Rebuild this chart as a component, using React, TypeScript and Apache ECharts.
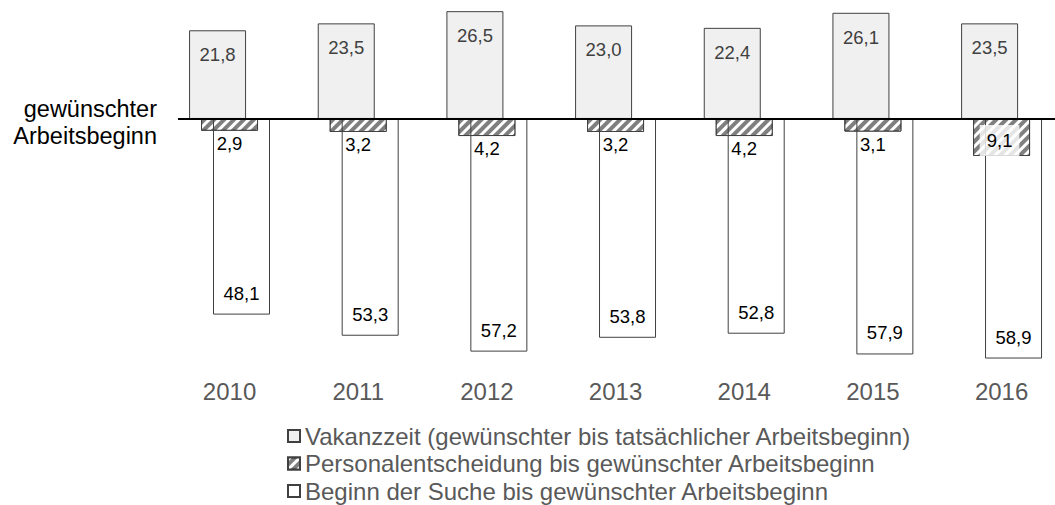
import React, { useEffect, useRef } from "react";
import * as echarts from "echarts";

const years = ["2010", "2011", "2012", "2013", "2014", "2015", "2016"];
const vakanz = [21.8, 23.5, 26.5, 23.0, 22.4, 26.1, 23.5];
const personal = [2.9, 3.2, 4.2, 3.2, 4.2, 3.1, 9.1];
const suche = [48.1, 53.3, 57.2, 53.8, 52.8, 57.9, 58.9];
const seriesNames = [
  "Vakanzzeit (gewünschter bis tatsächlicher Arbeitsbeginn)",
  "Personalentscheidung bis gewünschter Arbeitsbeginn",
  "Beginn der Suche bis gewünschter Arbeitsbeginn",
];
const leftLabel = "gewünschter\nArbeitsbeginn";
const personalInsideIndex = 6;

const FONT = "'Liberation Sans', Arial, sans-serif";
const fmt = (v: number) => Math.abs(v).toFixed(1).replace(".", ",");

export default function App() {
  const ref = useRef<HTMLDivElement>(null);
  useEffect(() => {
    if (!ref.current) return;
    const chart = echarts.init(ref.current, null, { renderer: "svg" });
    const option: any = {
      animation: false,
      textStyle: { fontFamily: FONT },
      grid: { left: 165.2, right: 34.1, top: 1, bottom: 142 },
      xAxis: {
        type: "category",
        data: years,
        axisLine: { show: false },
        axisTick: { show: false },
        axisLabel: { fontSize: 24, color: "#595959", margin: 16, fontFamily: FONT },
      },
      yAxis: {
        type: "value",
        min: -60,
        max: 29,
        show: false,
        splitLine: { show: false },
      },
      legend: {
        orient: "vertical",
        left: 287,
        top: 424,
        padding: 0,
        itemWidth: 12,
        itemHeight: 12,
        itemGap: 3.5,
        icon: "rect",
        data: seriesNames,
        textStyle: { fontSize: 24, lineHeight: 24, color: "#595959", fontFamily: FONT },
      },
      series: [
        {
          name: seriesNames[0],
          type: "bar",
          barWidth: 57,
          barGap: "-79%",
          data: vakanz,
          itemStyle: { color: "#f0f0f0", borderColor: "#404040", borderWidth: 1 },
          label: {
            show: true,
            position: "insideTop",
            distance: 15,
            fontSize: 18.5,
            color: "#404040",
            fontFamily: FONT,
            formatter: (p: any) => fmt(p.value),
          },
        },
        {
          name: seriesNames[1],
          type: "bar",
          barWidth: 57,
          barGap: "-79%",
          data: personal.map((v, i) =>
            i === personalInsideIndex
              ? {
                  value: -v,
                  label: {
                    position: "inside",
                    offset: [-2, 3],
                    backgroundColor: "rgba(255,255,255,0.8)",
                    padding: [6, 7],
                  },
                }
              : -v
          ),
          itemStyle: {
            color: "#7f7f7f",
            borderColor: "#404040",
            borderWidth: 1,
            decal: {
              symbol: "rect",
              symbolSize: 1,
              color: "#ffffff",
              dashArrayX: [1, 0],
              dashArrayY: [3, 4],
              rotation: -Math.PI / 4,
            },
          },
          label: {
            show: true,
            position: "bottom",
            distance: 3,
            fontSize: 18.5,
            color: "#000000",
            fontFamily: FONT,
            formatter: (p: any) => fmt(p.value),
          },
        },
        {
          name: seriesNames[2],
          type: "bar",
          barWidth: 57,
          barGap: "-79%",
          data: suche.map((v) => -v),
          itemStyle: { color: "rgba(255,255,255,0)", borderColor: "#404040", borderWidth: 1 },
          label: {
            show: true,
            position: "insideBottom",
            distance: 12,
            fontSize: 18.5,
            color: "#000000",
            fontFamily: FONT,
            formatter: (p: any) => fmt(p.value),
          },
        },
      ],
    };
    chart.setOption(option);
    const y0 = chart.convertToPixel({ yAxisIndex: 0 }, 0) as number;
    chart.setOption({
      graphic: [
        {
          type: "line",
          z: 10,
          shape: { x1: 178, y1: y0, x2: 1100, y2: y0 },
          style: { stroke: "#000000", lineWidth: 2 },
        },
        {
          type: "text",
          x: 157,
          y: 95,
          style: {
            text: leftLabel,
            fontSize: 23.5,
            lineHeight: 27,
            fill: "#000000",
            align: "right",
            verticalAlign: "top",
            fontFamily: FONT,
          },
        },
      ],
    });
    return () => chart.dispose();
  }, []);
  return (
    <div style={{ position: "fixed", left: 0, top: 0, width: 1055, height: 505, overflow: "hidden", background: "#fff" }}>
      <div ref={ref} style={{ width: 1100, height: 505 }} />
    </div>
  );
}
